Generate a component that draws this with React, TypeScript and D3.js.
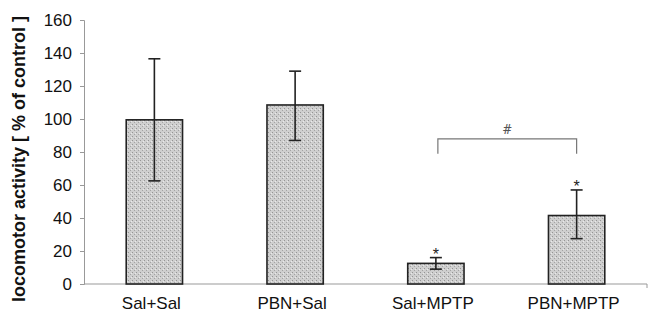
import { useEffect, useRef } from 'react';
import * as d3 from 'd3';

const groups = ['Sal+Sal', 'PBN+Sal', 'Sal+MPTP', 'PBN+MPTP'];
const means = [99.5, 108.5, 12.5, 41.5];
const errHigh = [136.5, 129, 16, 57];
const errLow = [62.5, 87, 9, 27.5];
const starred = [false, false, true, true];
const yTicks = [0, 20, 40, 60, 80, 100, 120, 140, 160];

export default function App() {
  const svgRef = useRef<SVGSVGElement | null>(null);

  const W = 651;
  const H = 321;
  const margin = { top: 20, right: 4, bottom: 37, left: 84 };

  useEffect(() => {
    const svg = d3.select(svgRef.current);
    svg.selectAll('*').remove();

    const x = d3
      .scaleBand<string>()
      .domain(groups)
      .range([margin.left, W - margin.right])
      .paddingInner(0.6)
      .paddingOuter(0.3);
    const y = d3
      .scaleLinear()
      .domain([0, 160])
      .range([H - margin.bottom, margin.top]);

    // stippled gray fill
    const defs = svg.append('defs');
    const pat = defs
      .append('pattern')
      .attr('id', 'stipple')
      .attr('width', 4)
      .attr('height', 4)
      .attr('patternUnits', 'userSpaceOnUse');
    pat.append('rect').attr('width', 4).attr('height', 4).attr('fill', '#cfcfcf');
    pat.append('rect').attr('x', 0).attr('y', 0).attr('width', 1).attr('height', 1).attr('fill', '#959595');
    pat.append('rect').attr('x', 2).attr('y', 2).attr('width', 1).attr('height', 1).attr('fill', '#a4a4a4');
    pat.append('rect').attr('x', 3).attr('y', 1).attr('width', 1).attr('height', 1).attr('fill', '#eaeaea');

    // y axis
    const yAxis = svg
      .append('g')
      .attr('transform', `translate(${margin.left},0)`)
      .call(d3.axisLeft(y).tickValues(yTicks).tickSize(4).tickPadding(8));
    yAxis.select('.domain').attr('stroke', '#999');
    yAxis.selectAll('.tick line').attr('stroke', '#999');
    yAxis
      .selectAll('.tick text')
      .attr('font-family', 'Arial, Liberation Sans, sans-serif')
      .attr('font-size', 17)
      .attr('fill', '#111');

    // x axis
    const x0 = margin.left;
    const x1 = W - margin.right;
    const yb = y(0);
    svg.append('line').attr('x1', x0).attr('x2', x1).attr('y1', yb).attr('y2', yb).attr('stroke', '#999');
    svg.append('line').attr('x1', x1).attr('x2', x1).attr('y1', yb).attr('y2', yb + 4).attr('stroke', '#999');

    svg
      .append('g')
      .selectAll('text')
      .data(groups)
      .enter()
      .append('text')
      .attr('x', (d) => (x(d) as number) + x.bandwidth() / 2 - 3)
      .attr('y', yb + 25)
      .attr('text-anchor', 'middle')
      .attr('font-family', 'Arial, Liberation Sans, sans-serif')
      .attr('font-size', 17)
      .attr('fill', '#111')
      .text((d) => d);

    // bars
    svg
      .append('g')
      .selectAll('rect')
      .data(groups)
      .enter()
      .append('rect')
      .attr('x', (d) => x(d) as number)
      .attr('y', (_, i) => y(means[i]))
      .attr('width', x.bandwidth())
      .attr('height', (_, i) => yb - y(means[i]))
      .attr('fill', 'url(#stipple)')
      .attr('stroke', '#222')
      .attr('stroke-width', 1.6);

    // error bars
    const eg = svg.append('g').attr('stroke', '#222').attr('stroke-width', 1.6);
    groups.forEach((g, i) => {
      const cx = (x(g) as number) + x.bandwidth() / 2;
      eg.append('line').attr('x1', cx).attr('x2', cx).attr('y1', y(errHigh[i])).attr('y2', y(errLow[i]));
      eg.append('line').attr('x1', cx - 6).attr('x2', cx + 6).attr('y1', y(errHigh[i])).attr('y2', y(errHigh[i]));
      eg.append('line').attr('x1', cx - 6).attr('x2', cx + 6).attr('y1', y(errLow[i])).attr('y2', y(errLow[i]));
      if (starred[i]) {
        svg
          .append('text')
          .attr('x', cx)
          .attr('y', y(errHigh[i]) + 2)
          .attr('text-anchor', 'middle')
          .attr('font-family', 'Arial, Liberation Sans, sans-serif')
          .attr('font-size', 16)
          .attr('fill', '#222')
          .text('*');
      }
    });

    // significance bracket between Sal+MPTP and PBN+MPTP
    const bx1 = (x('Sal+MPTP') as number) + x.bandwidth() / 2 + 2;
    const bx2 = (x('PBN+MPTP') as number) + x.bandwidth() / 2;
    const by = y(88);
    const byEnd = y(79);
    svg
      .append('path')
      .attr('d', `M${bx1},${byEnd}V${by}H${bx2}V${byEnd}`)
      .attr('fill', 'none')
      .attr('stroke', '#777')
      .attr('stroke-width', 1.2);
    svg
      .append('text')
      .attr('x', (bx1 + bx2) / 2)
      .attr('y', by - 5)
      .attr('text-anchor', 'middle')
      .attr('font-family', 'DejaVu Serif, serif')
      .attr('font-size', 12)
      .attr('fill', '#555')
      .text('#');

    // y label
    svg
      .append('text')
      .attr('transform', `translate(25,159) rotate(-90)`)
      .attr('text-anchor', 'middle')
      .attr('font-family', 'Arial, Liberation Sans, sans-serif')
      .attr('font-weight', 'bold')
      .attr('font-size', 18)
      .attr('fill', '#111')
      .text('locomotor activity [ % of control ]');
  }, []);

  return (
    <div style={{ position: 'absolute', left: 0, top: 0 }}>
      <svg ref={svgRef} width={W} height={H} style={{ display: 'block', background: '#fff' }}></svg>
    </div>
  );
}
